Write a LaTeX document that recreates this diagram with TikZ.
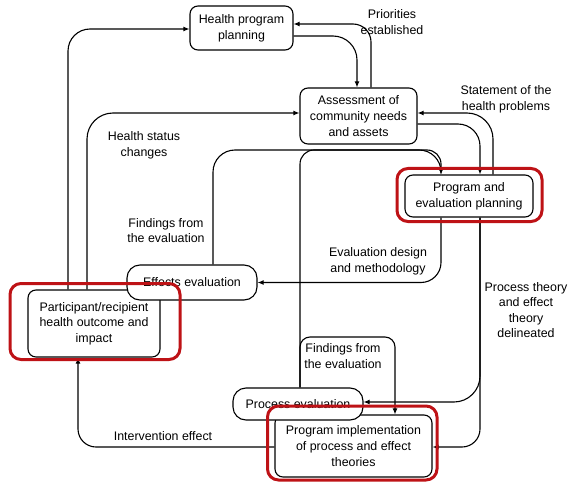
\documentclass[tikz,border=0pt]{standalone}
\usepackage{fontspec}
\setmainfont{Liberation Sans}
\usetikzlibrary{arrows.meta,calc}
\definecolor{hl}{RGB}{190,18,22}
\newcommand\fsz{\fontsize{12.4}{15.6}\selectfont}
\tikzset{
  box/.style={draw, line width=1.1pt, rounded corners=8pt, fill=white, align=center, inner sep=0pt, font=\fsz},
  pill/.style={box, rounded corners=13pt},
  lbl/.style={align=center, inner sep=0pt, font=\fsz},
  conn/.style={line width=1.1pt},
  arr/.style={conn, -{Latex[length=6pt,width=5pt]}},
  redbox/.style={draw=hl, line width=3pt, rounded corners=11pt}
}
\begin{document}
\begin{tikzpicture}[x=1pt,y=-1pt]
\useasboundingbox (0,0) rectangle (569,486);
% nodes
\node[box, minimum width=103pt, minimum height=44pt] (hpp) at (241.5,28) {Health program\\planning};
\node[box, minimum width=117pt, minimum height=56pt] (assess) at (358.5,116) {Assessment of\\community needs\\and assets};
\node[box, minimum width=128pt, minimum height=42pt] (pep) at (469,196) {Program and\\evaluation planning};
\node[box, minimum width=132pt, minimum height=67pt] (part) at (94,323.5) {Participant/recipient\\health outcome and\\impact};
\node[pill, minimum width=130pt, minimum height=35pt] (eff) at (192,282.5) {Effects evaluation};
\node[box, minimum width=157pt, minimum height=62pt] (impl) at (353.5,446) {Program implementation\\of process and effect\\theories};
\node[pill, minimum width=130pt, minimum height=32pt] (proc) at (298,404) {Process evaluation};
\coordinate (fy) at (0,150);
\coordinate (fy2) at (0,337);
% connectors
\draw[arr, rounded corners=22pt] ([xshift=-26pt]part.north) |- ([yshift=-1pt]hpp.west);
\draw[arr, rounded corners=26pt] ([xshift=-7pt]part.north) |- ([yshift=3pt]assess.west);
\draw[arr, rounded corners=24pt] ([yshift=-8pt]hpp.east) -| ([xshift=-1.5pt]assess.north);
\draw[arr, rounded corners=18pt] ([xshift=12.5pt]assess.north) |- ([yshift=4pt]hpp.east);
\draw[arr, rounded corners=22pt] ([yshift=-8pt]assess.east) -| ([xshift=11pt]pep.north);
\draw[arr, rounded corners=26pt] ([xshift=24pt]pep.north) |- ([yshift=3pt]assess.east);
\draw[arr, rounded corners=22pt] ([xshift=21pt]eff.north) -- ([xshift=21pt]eff.north |- fy) -- ([xshift=-28pt]pep.north |- fy) -- ([xshift=-28pt]pep.north);
\draw[arr, rounded corners=14pt] ([xshift=2pt]proc.north) -- ([xshift=2pt]proc.north |- fy) -- ([xshift=-28pt]pep.north |- fy) -- ([xshift=-28pt]pep.north);
\draw[arr, rounded corners=10pt] ([xshift=2pt]proc.north) -- ([xshift=2pt]proc.north |- fy2) -- ([xshift=41.5pt]impl.north |- fy2) -- ([xshift=41.5pt]impl.north);
\draw[arr, rounded corners=20pt] ([xshift=-28pt]pep.south) |- (eff.east);
\draw[arr, rounded corners=26pt] ([xshift=11pt]pep.south) |- ([yshift=2pt]proc.east);
\draw[arr, rounded corners=18pt] ([xshift=11pt]pep.south) |- ([yshift=-1pt]impl.east);
\draw[arr, rounded corners=18pt] ([yshift=-1pt]impl.west) -| ([xshift=-16pt]part.south);
% labels
\node[lbl] (l1) at (392,22) {Priorities\\established};
\node[lbl] (l2) at (506,99) {Statement of the\\health problems};
\node[lbl] (l3) at (144,145) {Health status\\changes};
\node[lbl] (l4) at (166,230.5) {Findings from\\the evaluation};
\node[lbl] (l5) at (378,261.5) {Evaluation design\\and methodology};
\node[lbl] (l6) at (526,310) {Process theory\\and effect\\theory\\delineated};
\node[lbl] (l7) at (343,356) {Findings from\\the evaluation};
\node[lbl] (l8) at (163,436) {Intervention effect};
% highlight frames
\draw[redbox] (10,283.5) rectangle (180,359.5);
\draw[redbox] (397,168.5) rectangle (542,221.5);
\draw[redbox] (267.5,406) rectangle (437,480);
\end{tikzpicture}
\end{document}
